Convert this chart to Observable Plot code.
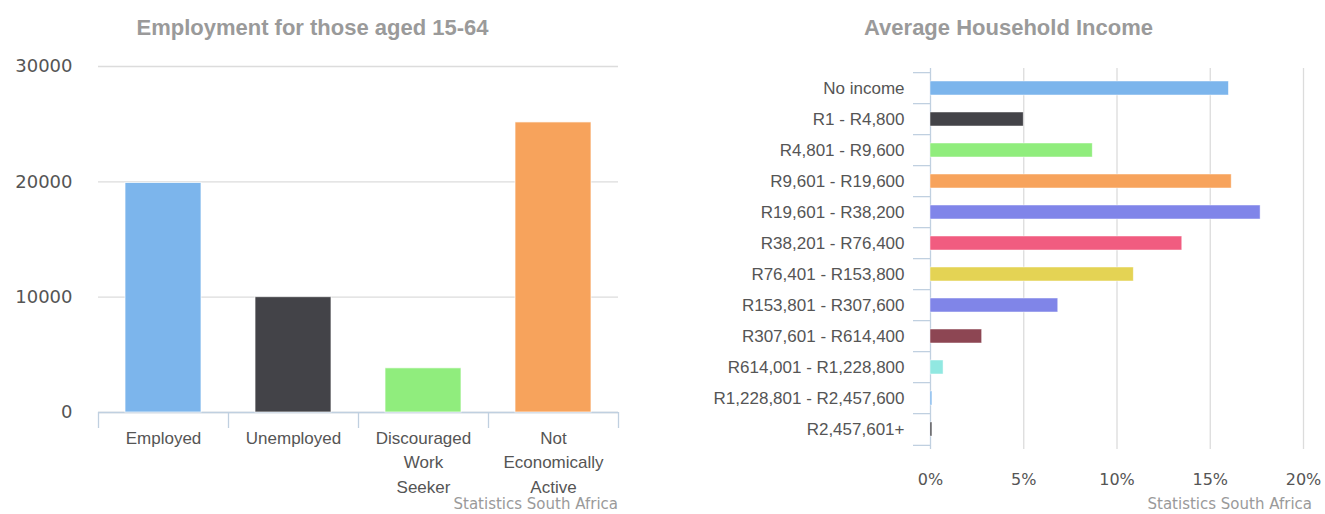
<!DOCTYPE html>
<html>
<head>
<meta charset="utf-8">
<script src="https://cdn.jsdelivr.net/npm/d3@7"></script>
<script src="https://cdn.jsdelivr.net/npm/@observablehq/plot@0.6"></script>
<style>
  body { margin: 0; background: #fff; }
  #page { position: relative; width: 1325px; height: 514px; overflow: hidden; font-family: "Liberation Sans", Arial, sans-serif; }
  .panel { position: absolute; top: 0; }
  .title { position: absolute; top: 17px; font-size: 22px; line-height: 22px; font-weight: bold; color: #9a9a9a; text-align: center; white-space: nowrap; }
  .credit { position: absolute; top: 497px; font-family: "DejaVu Sans", sans-serif; font-size: 15px; line-height: 14px; color: #9a9a9a; white-space: nowrap; }
</style>
</head>
<body>
<div id="page">
  <div class="title" style="left:0;width:625px;">Employment for those aged 15-64</div>
  <div class="title" style="left:700px;width:617px;">Average Household Income</div>
  <div id="left" class="panel" style="left:0;"></div>
  <div id="right" class="panel" style="left:660px;"></div>
  <div class="credit" style="right:707px;">Statistics South Africa</div>
  <div class="credit" style="right:13px;">Statistics South Africa</div>
</div>
<script>
// Employment status, people aged 15-64 (thousands)
const employmentCategories = ["Employed", "Unemployed", "Discouraged Work Seeker", "Not Economically Active"];
const employmentValues = [19900, 10000, 3830, 25150];
const employmentTickLabels = ["Employed", "Unemployed", "Discouraged\nWork\nSeeker", "Not\nEconomically\nActive"];
const employmentTicks = [0, 10000, 20000, 30000];

// Share of households by annual income band (%)
const incomeBands = [
  "No income", "R1 - R4,800", "R4,801 - R9,600", "R9,601 - R19,600",
  "R19,601 - R38,200", "R38,201 - R76,400", "R76,401 - R153,800", "R153,801 - R307,600",
  "R307,601 - R614,400", "R614,001 - R1,228,800", "R1,228,801 - R2,457,600", "R2,457,601+"
];
const incomeShares = [16.0, 5.0, 8.7, 16.15, 17.7, 13.5, 10.9, 6.85, 2.77, 0.7, 0.1, 0.1];
const incomeTicks = [0, 5, 10, 15, 20];

// Series colours
const palette = ["#7cb5ec", "#434348", "#90ed7d", "#f7a35c", "#8085e9", "#f15c80", "#e4d354", "#8085e8", "#8d4653", "#91e8e1"];

const axisColor = "#C0D0E0";
const gridColor = "#dcdcdc";
const labelColor = "#555555";

// ---------- Employment column chart ----------
const employment = employmentCategories.map((c, i) => ({category: c, value: employmentValues[i], color: palette[i % palette.length]}));
const tickLabelOf = new Map(employmentCategories.map((c, i) => [c, employmentTickLabels[i]]));

const L = {width: 660, height: 514, marginLeft: 98, marginRight: 42, marginTop: 66, marginBottom: 102};
const stepX = (L.width - L.marginLeft - L.marginRight) / employmentCategories.length;

const left = Plot.plot({
  width: L.width, height: L.height,
  marginLeft: L.marginLeft, marginRight: L.marginRight, marginTop: L.marginTop, marginBottom: L.marginBottom,
  style: {fontFamily: "Liberation Sans, Arial, sans-serif", fontSize: "17px", color: labelColor, background: "transparent"},
  x: {type: "band", domain: employmentCategories, paddingInner: 0.412, paddingOuter: 0.206},
  y: {domain: [0, 30000]},
  color: {type: "identity"},
  marks: [
    Plot.gridY(employmentTicks, {stroke: gridColor, strokeOpacity: 1, strokeWidth: 1.3}),
    Plot.ruleY([0], {stroke: axisColor, strokeWidth: 1.3}),
    // category boundary ticks below the axis
    Plot.ruleX(employmentCategories, {x: d => d, y1: 0, y2: 0, insetBottom: -16, dx: -stepX / 2, stroke: axisColor, strokeWidth: 1.3}),
    Plot.ruleX(employmentCategories.slice(-1), {x: d => d, y1: 0, y2: 0, insetBottom: -16, dx: stepX / 2, stroke: axisColor, strokeWidth: 1.3}),
    Plot.barY(employment, {x: "category", y: "value", fill: "color", stroke: "white", strokeWidth: 1, strokeOpacity: 0.7}),
    Plot.axisY({ticks: employmentTicks, tickSize: 0, tickPadding: 26, label: null, tickFormat: d => String(d), fontFamily: "DejaVu Sans, sans-serif", fontSize: 18, fill: labelColor}),
    Plot.axisX({tickSize: 0, tickPadding: 14, label: null, tickFormat: d => tickLabelOf.get(d), lineHeight: 1.44, fontSize: 17, fill: labelColor})
  ]
});
document.getElementById("left").appendChild(left);

// ---------- Household income bar chart ----------
const income = incomeBands.map((b, i) => ({band: b, share: incomeShares[i], color: palette[i % palette.length]}));

const R = {width: 665, height: 514, marginLeft: 270, marginRight: 22, marginTop: 68, marginBottom: 65};
const stepY = (R.height - R.marginTop - R.marginBottom) / incomeBands.length;

const right = Plot.plot({
  width: R.width, height: R.height,
  marginLeft: R.marginLeft, marginRight: R.marginRight, marginTop: R.marginTop, marginBottom: R.marginBottom,
  style: {fontFamily: "Liberation Sans, Arial, sans-serif", fontSize: "17px", color: labelColor, background: "transparent"},
  x: {domain: [0, 20]},
  y: {type: "band", domain: incomeBands, paddingInner: 0.55, paddingOuter: 0.275},
  color: {type: "identity"},
  marks: [
    Plot.gridX(incomeTicks.filter(t => t > 0), {stroke: gridColor, strokeOpacity: 1, strokeWidth: 1.3}),
    Plot.ruleX([0], {stroke: axisColor, strokeWidth: 1.3}),
    // category boundary ticks left of the axis
    Plot.ruleY(incomeBands, {y: d => d, x1: 0, x2: 0, insetLeft: -17, dy: -stepY / 2, stroke: axisColor, strokeWidth: 1.3}),
    Plot.ruleY(incomeBands.slice(-1), {y: d => d, x1: 0, x2: 0, insetLeft: -17, dy: stepY / 2, stroke: axisColor, strokeWidth: 1.3}),
    Plot.barX(income, {y: "band", x: "share", fill: "color", stroke: "white", strokeWidth: 0.8, strokeOpacity: 0.6}),
    Plot.axisY({tickSize: 0, tickPadding: 26, label: null, fontSize: 17, fill: labelColor}),
    Plot.axisX({ticks: incomeTicks, tickSize: 0, tickPadding: 24, label: null, tickFormat: d => d + "%", fontFamily: "DejaVu Sans, sans-serif", fontSize: 16, fill: labelColor})
  ]
});
document.getElementById("right").appendChild(right);
</script>
</body>
</html>
